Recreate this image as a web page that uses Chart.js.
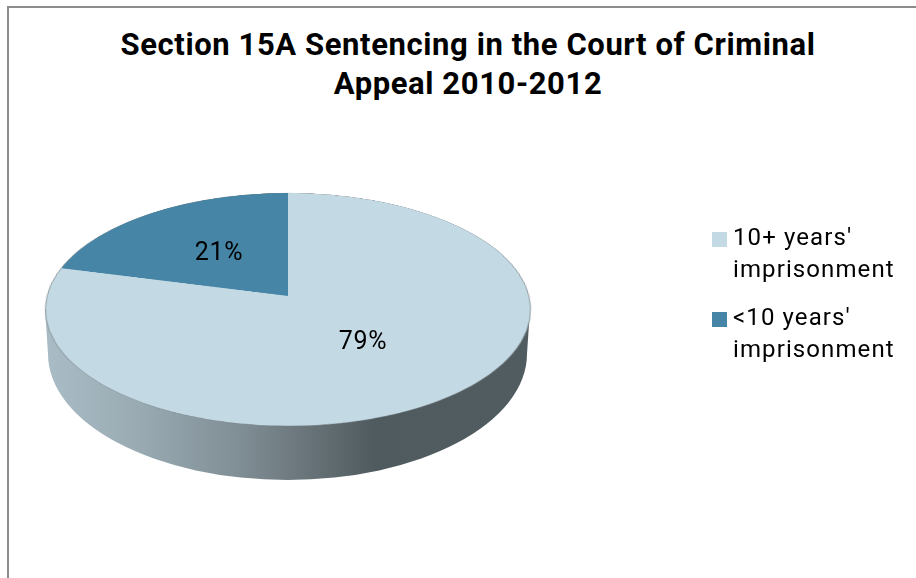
<!DOCTYPE html>
<html lang="en">
<head>
    <meta charset="UTF-8">
    <title>Section 15A Sentencing</title>
    <script src="https://cdn.jsdelivr.net/npm/chart.js"></script>
    <style>
        html, body { margin: 0; background: #fff; overflow: hidden; }
        #stage { position: relative; width: 916px; height: 578px; font-family: Roboto, sans-serif; color: #000; overflow: hidden; }
        #frame { position: absolute; left: 7px; top: 6px; width: 920px; height: 600px; border-left: 2px solid #8c8c8c; border-top: 2px solid #8c8c8c; }
        #title { position: absolute; left: 0; width: 936px; top: 25px; text-align: center; font-size: 31px; font-weight: 700; line-height: 39px; letter-spacing: 0.6px; }
        #wall { position: absolute; left: 0; top: 0; }
        #pie { position: absolute; left: 44.5px; top: 53px; transform: perspective(1828px) rotateX(61.5deg); transform-origin: 50% 50%; }
        .value { position: absolute; transform: translate(-50%, -50%); font-size: 25px; letter-spacing: 0.7px; }
        .key { position: absolute; left: 733px; font-size: 24px; line-height: 32px; letter-spacing: 1.1px; white-space: pre; }
        .swatch { position: absolute; left: 712px; width: 15px; height: 15px; }
    </style>
</head>
<body>
    <div id="stage">
        <div id="frame"></div>
        <div id="title">Section 15A Sentencing in the Court of Criminal<br>Appeal 2010-2012</div>
        <canvas id="wall" width="916" height="578"></canvas>
        <canvas id="pie" width="486" height="486"></canvas>
    </div>
    <script>
        const categories = ["10+ years'\nimprisonment", "<10 years'\nimprisonment"];
        const shares = [79, 21];
        const sliceColors = ['#c3d9e4', '#4685a5'];
        const labelCentres = [[363, 340], [219, 251]];
        const keyTops = [221, 301];
        const swatchTops = [232, 312];

        const stage = document.getElementById('stage');

        // rim of the disc: thin grey line round the top face
        const rimLine = {
            id: 'rimLine',
            afterDatasetsDraw(chart) {
                const arc = chart.getDatasetMeta(0).data[0];
                const c = chart.ctx;
                c.save();
                c.strokeStyle = 'rgba(120,130,135,0.7)';
                c.lineWidth = 1;
                c.beginPath();
                c.arc(arc.x, arc.y, arc.outerRadius, 0, Math.PI * 2);
                c.stroke();
                c.restore();
            }
        };

        new Chart(document.getElementById('pie'), {
            type: 'pie',
            data: {
                labels: categories,
                datasets: [{
                    data: shares,
                    backgroundColor: sliceColors,
                    borderWidth: 0,
                    radius: 241
                }]
            },
            options: {
                responsive: false,
                animation: false,
                plugins: { legend: { display: false }, tooltip: { enabled: false } }
            },
            plugins: [rimLine]
        });

        // side of the disc, sits under the tilted pie canvas
        const wall = document.getElementById('wall').getContext('2d');
        const shade = wall.createLinearGradient(48, 0, 527, 0);
        shade.addColorStop(0, '#a9bcc5');
        shade.addColorStop(0.2, '#98a9b1');
        shade.addColorStop(0.4, '#808e95');
        shade.addColorStop(0.52, '#6c787d');
        shade.addColorStop(0.68, '#505b5f');
        shade.addColorStop(1, '#515c60');
        wall.fillStyle = shade;
        wall.beginPath();
        wall.moveTo(45, 309);
        wall.lineTo(48, 354);
        wall.ellipse(287.5, 354, 239.5, 126, 0, Math.PI, 0, true);
        wall.lineTo(530, 309);
        wall.closePath();
        wall.fill();

        // percentages and legend sit flat on top of the tilted pie
        shares.forEach((v, i) => {
            const val = document.createElement('div');
            val.className = 'value';
            val.textContent = v + '%';
            val.style.left = labelCentres[i][0] + 'px';
            val.style.top = labelCentres[i][1] + 'px';
            stage.appendChild(val);

            const sw = document.createElement('div');
            sw.className = 'swatch';
            sw.style.top = swatchTops[i] + 'px';
            sw.style.background = sliceColors[i];
            stage.appendChild(sw);

            const key = document.createElement('div');
            key.className = 'key';
            key.textContent = categories[i];
            key.style.top = keyTops[i] + 'px';
            stage.appendChild(key);
        });
    </script>
</body>
</html>
